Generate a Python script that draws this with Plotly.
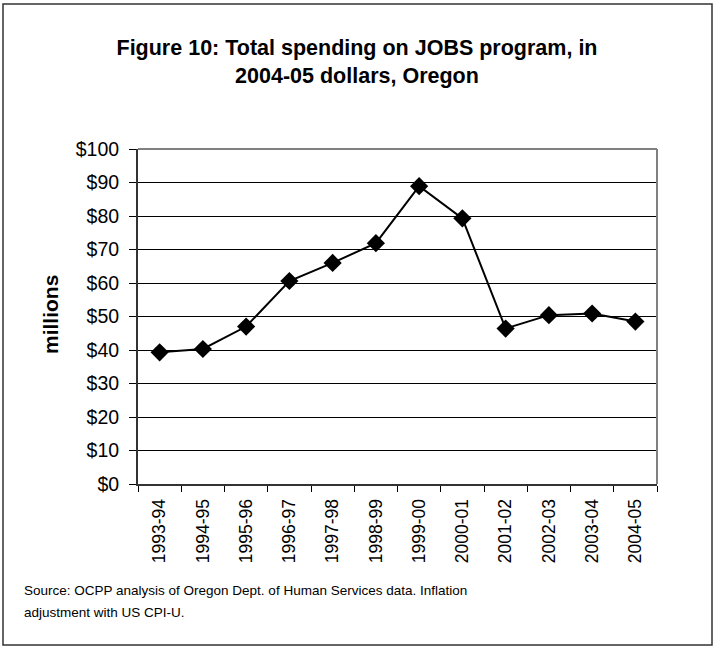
import plotly.graph_objects as go

years = ["1993-94", "1994-95", "1995-96", "1996-97", "1997-98", "1998-99",
         "1999-00", "2000-01", "2001-02", "2002-03", "2003-04", "2004-05"]
spending = [39.3, 40.3, 47.0, 60.6, 66.0, 71.9, 88.9, 79.3, 46.4, 50.4, 50.9, 48.5]
y_ticks = [0, 10, 20, 30, 40, 50, 60, 70, 80, 90, 100]
y_tick_labels = ["$" + str(v) for v in y_ticks]

FONT = "Liberation Sans, Arial, sans-serif"

fig = go.Figure()
fig.add_trace(go.Scatter(
    x=years, y=spending, mode="lines+markers",
    line=dict(color="black", width=2),
    marker=dict(symbol="diamond", size=14, color="black"),
    showlegend=False,
))

L, R, T, B = 138, 657, 149, 484
W, H = 714, 647
pw, ph = R - L, B - T

def px(x):
    return (x - L) / pw

def py(y):
    return (B - y) / ph

fig.update_layout(
    width=W, height=H,
    margin=dict(l=L, r=W - R, t=T, b=H - B),
    paper_bgcolor="white", plot_bgcolor="white",
    font=dict(family=FONT, color="black"),
    title=dict(
        text="<b>Figure 10: Total spending on JOBS program, in<br>2004-05 dollars, Oregon</b>",
        x=0.5, xref="container", xanchor="center",
        y=1 - 55 / H, yref="container", yanchor="middle",
        font=dict(size=21.5, family=FONT, color="black"),
    ),
    xaxis=dict(
        type="category", tickangle=-90, tickfont=dict(size=17.5),
        showgrid=False, ticks="outside", tickson="boundaries", ticklen=6,
        tickcolor="black", showline=True, linecolor="#333", linewidth=2,
        mirror=False, range=[-0.5, len(years) - 0.5], ticklabelstandoff=6,
    ),
    yaxis=dict(
        range=[0, 100], tickvals=y_ticks, ticktext=y_tick_labels,
        tickfont=dict(size=19.5), ticks="outside", ticklen=7, tickcolor="black",
        showgrid=True, gridcolor="black", gridwidth=1, ticklabelstandoff=6,
        showline=True, linecolor="#333", linewidth=2, zeroline=False,
    ),
    shapes=[
        dict(type="line", xref="paper", yref="paper", x0=0, x1=1, y0=1, y1=1,
             line=dict(color="#808080", width=2)),
        dict(type="line", xref="paper", yref="paper", x0=1, x1=1, y0=0, y1=1,
             line=dict(color="#808080", width=2)),
        dict(type="rect", xref="paper", yref="paper",
             x0=px(3), x1=px(712), y0=py(645), y1=py(4),
             line=dict(color="#333", width=1.5), fillcolor="rgba(0,0,0,0)",
             layer="below"),
    ],
    annotations=[
        dict(text="<b>millions</b>", textangle=-90, x=px(50), y=py(315),
             xref="paper", yref="paper", xanchor="center", yanchor="middle",
             showarrow=False, font=dict(size=21, family=FONT)),
        dict(text="Source: OCPP analysis of Oregon Dept. of Human Services data. Inflation",
             x=px(22), y=py(590), xref="paper", yref="paper",
             xanchor="left", yanchor="middle", align="left", showarrow=False,
             font=dict(size=13.5, family=FONT)),
        dict(text="adjustment with US CPI-U.",
             x=px(22), y=py(612), xref="paper", yref="paper",
             xanchor="left", yanchor="middle", align="left", showarrow=False,
             font=dict(size=13.5, family=FONT)),
    ],
)

fig.write_html("out.html")
